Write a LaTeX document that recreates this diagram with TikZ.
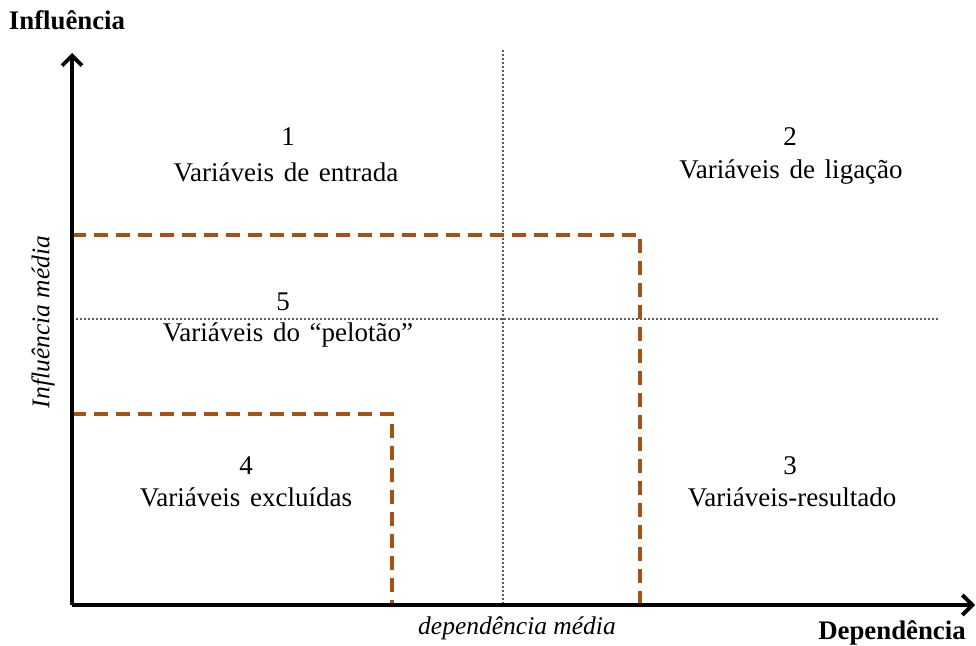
\documentclass[tikz,border=0pt]{standalone}
\usepackage{fontspec}
\setmainfont{Liberation Serif}
\usetikzlibrary{arrows.meta}
\definecolor{dashbrown}{RGB}{165,82,20}
\definecolor{dotgray}{RGB}{90,90,90}
\newcommand{\wsp}{\hspace{0.36em}}
\tikzset{
  axis/.style={line width=3.8pt, -{Straight Barb[length=10pt,width=20pt,line width=3.8pt]}},
  brownline/.style={dashbrown, line width=3.5pt, dash pattern=on 14pt off 8pt},
  dotline/.style={dotgray, line width=1.4pt, dash pattern=on 2pt off 2pt},
  lbl/.style={font=\fontsize{27}{30}\selectfont, inner sep=0pt, align=center},
  axlbl/.style={font=\fontsize{26.8}{30}\selectfont\bfseries, inner sep=0pt},
  itlbl/.style={font=\fontsize{25.5}{28}\selectfont\itshape, inner sep=0pt}
}
\begin{document}
\begin{tikzpicture}[x=1pt,y=-1pt]
\useasboundingbox (0,0) rectangle (976,645);
% reference lines
\coordinate (vtop) at (503,50);
\coordinate (vbot) at (503,605);
\coordinate (hl) at (72,319);
\coordinate (hr) at (938,319);
\draw[dotline] (vtop) -- (vbot);
\draw[dotline] (hl) -- (hr);
% dashed brown
\coordinate (a1) at (72,235);
\coordinate (a2) at (640,235);
\coordinate (a3) at (640,605);
\coordinate (b1) at (72,414);
\coordinate (b2) at (392,414);
\coordinate (b3) at (392,605);
\draw[brownline] (a1) -- (a2) -- (a3);
\draw[brownline] (b1) -- (b2) -- (b3);
% axes
\coordinate (origin) at (72,605);
\coordinate (ytip) at (72,53);
\coordinate (xtip) at (975,605);
\draw[axis] (origin) -- (ytip);
\draw[axis] (origin) -- (xtip);
% labels
\node[axlbl] (yl) at (67,20) {Influência};
\node[axlbl] (xl) at (892,633) {Dependência};
\node[itlbl] (xm) at (517,628) {dependência média};
\node[itlbl, rotate=90] (ym) at (43,322) {Influência média};
\node[lbl] (n1) at (288,137) {1};
\node[lbl] (t1) at (286,172) {Variáveis\wsp de\wsp entrada};
\node[lbl] (n2) at (790,137) {2};
\node[lbl] (t2) at (791,172) {Variáveis\wsp de\wsp ligação};
\node[lbl] (n5) at (283,302) {5};
\node[lbl] (t5) at (288,335) {Variáveis\wsp do\wsp “pelotão”};
\node[lbl] (n4) at (246,466) {4};
\node[lbl] (t4) at (246,497) {Variáveis\wsp excluídas};
\node[lbl] (n3) at (790,466) {3};
\node[lbl] (t3) at (792,497) {Variáveis-resultado};
\end{tikzpicture}
\end{document}
